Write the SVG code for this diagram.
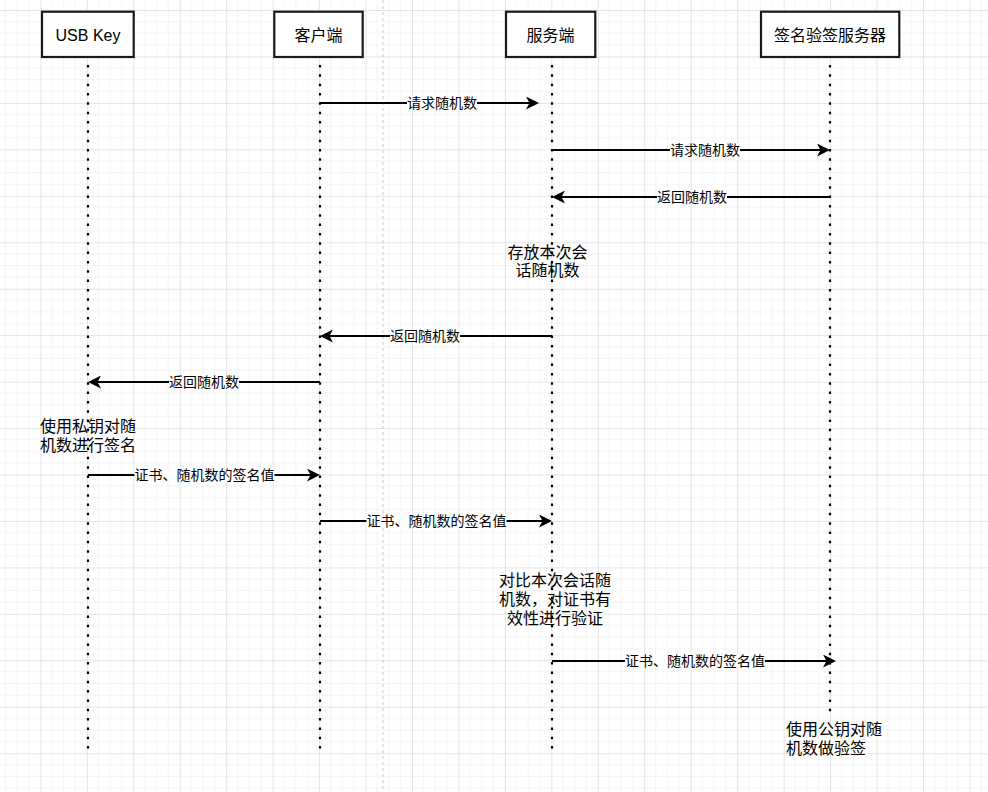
<svg xmlns="http://www.w3.org/2000/svg" width="988" height="792" viewBox="0 0 988 792">
<style>
.t{font-family:"Liberation Sans","Noto Sans CJK SC",sans-serif;fill:#000}
.h{font-size:16px;text-anchor:middle}
.n{font-size:16px}
.lb{font-size:14px;text-anchor:middle}
.box{fill:#fff;stroke:#1a1a1a;stroke-width:2.2}
.life{stroke:#000;stroke-width:2.2;stroke-dasharray:2.5 6.83;fill:none}
.msg{stroke:#000;stroke-width:2;fill:none;marker-end:url(#arr)}
.bg{fill:#fff}
</style>
<defs>
<pattern id="grid" patternUnits="userSpaceOnUse" x="40.4" y="10" width="46.45" height="46.45">
<path d="M11.61,0V46.45M23.22,0V46.45M34.84,0V46.45M0,11.61H46.45M0,23.22H46.45M0,34.84H46.45" stroke="#f4f4f4" stroke-width="1" fill="none"/>
<path d="M0.5,0V46.45M0,0.5H46.45" stroke="#e4e4e4" stroke-width="1" fill="none"/>
</pattern>
<marker id="arr" markerUnits="userSpaceOnUse" viewBox="0 0 13 13" markerWidth="13" markerHeight="13" refX="4" refY="6.5" orient="auto">
<path d="M0,0 L13,6.5 L0,13 L3.5,6.5 Z" fill="#000"/>
</marker>
</defs>
<g id="background">
<rect width="988" height="792" fill="#fff"/>
<rect width="988" height="792" fill="url(#grid)"/>
<line x1="383" y1="0" x2="383" y2="792" stroke="#c8c8c8" stroke-width="1" stroke-dasharray="3 3"/>
</g>
<g id="lifelines">
<line class="life" x1="88" y1="65" x2="88" y2="753"/>
<line class="life" x1="320" y1="65" x2="320" y2="753"/>
<line class="life" x1="552" y1="65" x2="552" y2="753"/>
<line class="life" x1="830" y1="65" x2="830" y2="717"/>
</g>
<g id="node-usbkey"><rect class="box" x="42" y="11.7" width="91.7" height="45.3"/><text class="t h" x="88" y="40.5">USB Key</text></g>
<g id="node-client"><rect class="box" x="274.3" y="11.7" width="88.4" height="45.3"/><text class="t h" x="318.5" y="40.5">客户端</text></g>
<g id="node-server"><rect class="box" x="506" y="11.7" width="89.3" height="45.3"/><text class="t h" x="550.6" y="40.5">服务端</text></g>
<g id="node-signserver"><rect class="box" x="761" y="11.7" width="138.3" height="45.3"/><text class="t h" x="830" y="40.5">签名验签服务器</text></g>
<g id="connectors">
<g id="e1"><path class="msg" d="M320,103H530"/><rect class="bg" x="407" y="96" width="70" height="14"/><text class="t lb" x="442" y="108.3">请求随机数</text></g>
<g id="e2"><path class="msg" d="M552,150H821"/><rect class="bg" x="670" y="143" width="70" height="14"/><text class="t lb" x="705" y="155.3">请求随机数</text></g>
<g id="e3"><path class="msg" d="M830,197H561"/><rect class="bg" x="657" y="190" width="70" height="14"/><text class="t lb" x="692" y="202.3">返回随机数</text></g>
<g id="e4"><path class="msg" d="M552,336H329"/><rect class="bg" x="390" y="329" width="70" height="14"/><text class="t lb" x="425" y="341.3">返回随机数</text></g>
<g id="e5"><path class="msg" d="M320,382H97"/><rect class="bg" x="169" y="375" width="70" height="14"/><text class="t lb" x="204" y="387.3">返回随机数</text></g>
<g id="e6"><path class="msg" d="M88,475H311"/><rect class="bg" x="134.5" y="468" width="140" height="14"/><text class="t lb" x="204.5" y="480.3">证书、随机数的签名值</text></g>
<g id="e7"><path class="msg" d="M320,521H543"/><rect class="bg" x="366.5" y="514" width="140" height="14"/><text class="t lb" x="436.5" y="526.3">证书、随机数的签名值</text></g>
<g id="e8"><path class="msg" d="M552,661H827"/><rect class="bg" x="625" y="654" width="140" height="14"/><text class="t lb" x="695" y="666.3">证书、随机数的签名值</text></g>
</g>
<g id="note-store"><text class="t n" text-anchor="middle"><tspan x="547.5" y="257.6">存放本次会</tspan><tspan x="547.5" y="276.2">话随机数</tspan></text></g>
<g id="note-sign"><text class="t n"><tspan x="40" y="432">使用私钥对随</tspan><tspan x="40" y="450.5">机数进行签名</tspan></text></g>
<g id="note-verify"><text class="t n" text-anchor="middle"><tspan x="555" y="586">对比本次会话随</tspan><tspan x="555" y="605">机数，对证书有</tspan><tspan x="555" y="624">效性进行验证</tspan></text></g>
<g id="note-check"><text class="t n"><tspan x="786" y="735">使用公钥对随</tspan><tspan x="786" y="754">机数做验签</tspan></text></g>
</svg>
